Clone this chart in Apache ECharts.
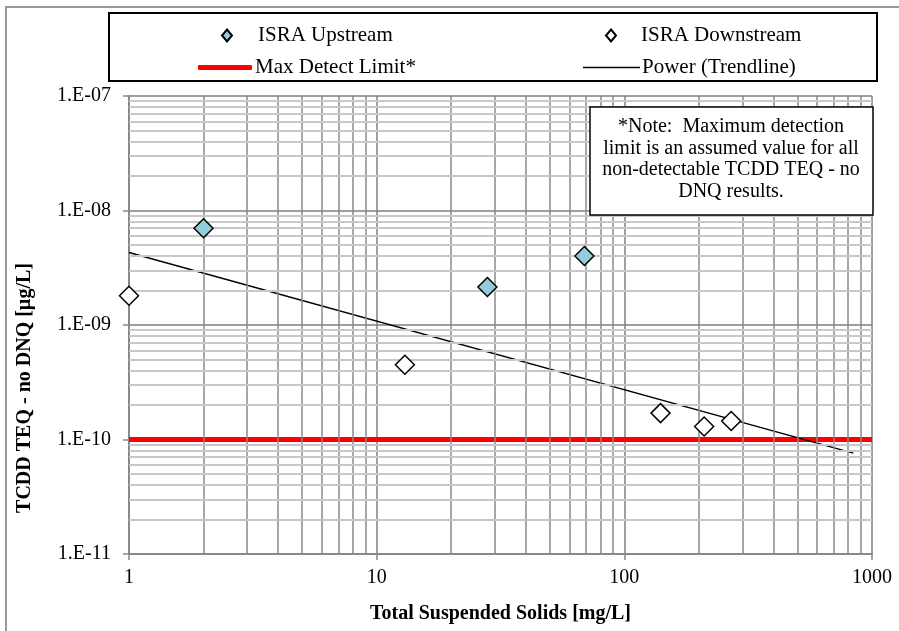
<!DOCTYPE html>
<html>
<head>
<meta charset="utf-8">
<script src="https://cdn.jsdelivr.net/npm/echarts@6/dist/echarts.min.js"></script>
<style>
  html, body { margin: 0; padding: 0; background: #fff; }
  #chart { width: 899px; height: 631px; }
</style>
</head>
<body>
<div id="chart"></div>
<script>
// data
var upstream = [[2, 7.0e-9], [28, 2.15e-9], [69, 4.0e-9]];
var downstream = [[1, 1.8e-9], [13, 4.5e-10], [140, 1.7e-10], [210, 1.3e-10], [270, 1.45e-10]];
var detectLimit = [[1, 1e-10], [1000, 1e-10]];
var trendline = [[1, 4.3e-9], [840, 7.6e-11]];
var noteLines = ['*Note:  Maximum detection', 'limit is an assumed value for all', 'non-detectable TCDD TEQ - no', 'DNQ results.'];
var yTitle = 'TCDD TEQ - no DNQ [µg/L]';

// minor gridline positions (2..9 of each decade)
var xMinor = [], yMinor = [];
[1, 10, 100].forEach(function (d) { for (var k = 2; k <= 9; k++) xMinor.push(k * d); });
[1e-11, 1e-10, 1e-9, 1e-8].forEach(function (d) { for (var k = 2; k <= 9; k++) yMinor.push(k * d); });

var FONT = '"Liberation Serif", "Times New Roman", serif';
var myChart = echarts.init(document.getElementById('chart'));

function expLabel(v) {
  var e = Math.round(Math.log10(v));
  return '1.E' + (e < 0 ? '-' : '+') + String(Math.abs(e)).padStart(2, '0');
}
function legendText(pad) {
  return { fontFamily: FONT, fontSize: 21, color: '#000', padding: [0, 0, 0, pad] };
}

var option = {
  backgroundColor: '#fff',
  animation: false,
  textStyle: { fontFamily: FONT },
  grid: { left: 129, right: 27, top: 96, bottom: 77 },
  legend: [
    { data: ['ISRA Upstream'], left: 216, top: 20, itemWidth: 10, itemHeight: 12, textStyle: legendText(21) },
    { data: ['ISRA Downstream'], left: 600, top: 20, itemWidth: 10, itemHeight: 12, textStyle: legendText(20) },
    { data: ['Max Detect Limit*'], left: 193, top: 52, itemWidth: 54, itemHeight: 5, icon: 'roundRect', textStyle: legendText(-2) },
    { data: ['Power (Trendline)'], left: 578, top: 52, itemWidth: 57, itemHeight: 1.5, icon: 'rect', textStyle: legendText(-3) }
  ],
  xAxis: {
    type: 'log', logBase: 10, min: 1, max: 1000,
    name: 'Total Suspended Solids [mg/L]', nameLocation: 'middle', nameGap: 50,
    nameTextStyle: { fontFamily: FONT, fontSize: 20, fontWeight: 'bold', color: '#000' },
    axisLine: { show: true, onZero: false, lineStyle: { color: '#888', width: 2 } },
    axisTick: { show: true, length: 6, lineStyle: { color: '#888', width: 1.5 } },
    axisLabel: { fontFamily: FONT, fontSize: 20, color: '#000', margin: 14, formatter: function (v) { return String(v); } },
    splitLine: { show: true, lineStyle: { color: '#7f7f7f', width: 1.5 } }
  },
  yAxis: {
    type: 'log', logBase: 10, min: 1e-11, max: 1e-7, splitNumber: 4,
    axisLine: { show: true, onZero: false, lineStyle: { color: '#888', width: 2 } },
    axisTick: { show: true, length: 6, lineStyle: { color: '#888', width: 1.5 } },
    axisLabel: { fontFamily: FONT, fontSize: 20, color: '#000', margin: 18, formatter: expLabel },
    splitLine: { show: true, lineStyle: { color: '#7f7f7f', width: 1.5 } }
  },
  series: [
    {
      // minor gridlines
      type: 'line', data: [], z: 1, silent: true,
      markLine: {
        silent: true, symbol: 'none', label: { show: false }, animation: false, precision: 20,
        data: xMinor.map(function (v) { return { xAxis: v, lineStyle: { color: '#8a8a8a', width: 1.5, type: 'solid' } }; })
          .concat(yMinor.map(function (v) { return { yAxis: v, lineStyle: { color: '#c8c8c8', width: 2, type: 'solid' } }; }))
      }
    },
    {
      name: 'Max Detect Limit*', type: 'line', data: detectLimit, z: 3,
      symbol: 'none', lineStyle: { color: '#ff0000', width: 5 }, itemStyle: { color: '#ff0000' }
    },
    {
      name: 'Power (Trendline)', type: 'line', data: trendline, z: 4,
      symbol: 'none', lineStyle: { color: '#000', width: 1.5 }, itemStyle: { color: '#000' }
    },
    {
      name: 'ISRA Upstream', type: 'scatter', data: upstream, z: 5,
      symbol: 'diamond', symbolSize: 19,
      itemStyle: { color: '#92cddc', borderColor: '#000', borderWidth: 1.5, opacity: 1 }
    },
    {
      name: 'ISRA Downstream', type: 'scatter', data: downstream, z: 5,
      symbol: 'diamond', symbolSize: 19,
      itemStyle: { color: '#fff', borderColor: '#000', borderWidth: 1.5, opacity: 1 }
    }
  ],
  graphic: [
    {
      type: 'rect', z: -10, silent: true,
      shape: { x: 6, y: 7, width: 1000, height: 1000 },
      style: { fill: 'none', stroke: '#999', lineWidth: 2 }
    },
    {
      type: 'rect', z: 10, silent: true,
      shape: { x: 109, y: 13, width: 768, height: 68 },
      style: { fill: 'none', stroke: '#000', lineWidth: 2 }
    },
    {
      type: 'rect', z: 10, silent: true,
      shape: { x: 590, y: 107, width: 283, height: 108 },
      style: { fill: '#fff', stroke: '#000', lineWidth: 1.5 }
    },
    {
      type: 'text', z: 11, silent: true,
      x: 731, y: 116,
      style: {
        text: noteLines.join('\n'), font: '20px ' + FONT, fill: '#000',
        textAlign: 'center', textVerticalAlign: 'top', lineHeight: 21.5
      }
    },
    {
      // y axis title, sits lower than the plot centre in the original
      type: 'text', z: 11, silent: true,
      x: 25, y: 388, rotation: Math.PI / 2,
      style: {
        text: yTitle, font: 'bold 20px ' + FONT, fill: '#000',
        textAlign: 'center', textVerticalAlign: 'middle'
      }
    }
  ]
};

option && myChart.setOption(option);
window.addEventListener('resize', function () {
  myChart.resize();
});
</script>
</body>
</html>
